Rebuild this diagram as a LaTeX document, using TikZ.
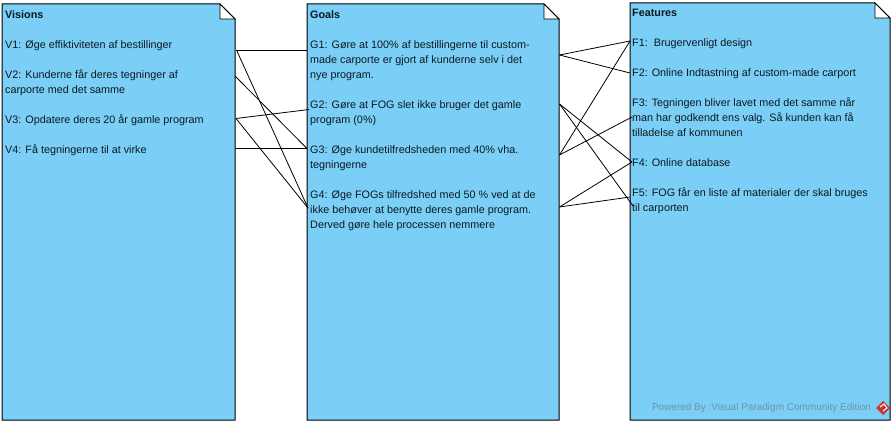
\documentclass[tikz,border=0pt]{standalone}
\usepackage{fontspec}
\setmainfont{Liberation Sans}
\definecolor{notefill}{HTML}{7BCEF5}
\definecolor{ink}{HTML}{0B1A22}
\definecolor{mark}{HTML}{6F93A8}
\definecolor{logored}{HTML}{C8342F}
\begin{document}
\begin{tikzpicture}[x=1pt,y=-1pt,text=ink,
    note/.style={draw=black,fill=notefill,line width=1pt},
    fold/.style={draw=black,fill=white,line width=.8pt},
    item/.style={anchor=north west,inner sep=0pt,align=left,
      font=\fontsize{10.8}{15}\selectfont,execute at begin node=\strut},
    title/.style={item,font=\fontsize{10.8}{15}\selectfont\bfseries},
    link/.style={draw=black,line width=.8pt}]
  \useasboundingbox (0,0) rectangle (895,425);
  % the three notes
  \foreach \xa/\xb/\ya in {2/235/4,307/559/4,630/890/3}{
    \draw[note] (\xa,\ya)--(\xb-15,\ya)--(\xb,\ya+15)--(\xb,420)--(\xa,420)--cycle;
    \draw[fold] (\xb-15,\ya)--(\xb-15,\ya+15)--(\xb,\ya+15)--cycle;
  }
  % visions
  \node[title] (visions) at (5,7.5) {Visions};
  \node[item] (v1) at (5,37.5) {V1: Øge effiktiviteten af bestillinger};
  \node[item] (v2) at (5,70) {V2: Kunderne får deres tegninger af\\carporte med det samme};
  \node[item] (v3) at (5,112.5) {V3: Opdatere deres 20 år gamle program};
  \node[item] (v4) at (5,142.5) {V4: Få tegningerne til at virke};
  % goals
  \node[title] (goals) at (310,7.5) {Goals};
  \node[item] (g1) at (310,40) {G1: Gøre at 100\% af bestillingerne til custom-\\made carporte er gjort af kunderne selv i det\\nye program.};
  \node[item] (g2) at (310,100) {G2: Gøre at FOG slet ikke bruger det gamle\\program (0\%)};
  \node[item] (g3) at (310,145) {G3: Øge kundetilfredsheden med 40\% vha.\\tegningerne};
  \node[item] (g4) at (310,190) {G4: Øge FOGs tilfredshed med 50 \% ved at de\\ikke behøver at benytte deres gamle program.\\Derved gøre hele processen nemmere};
  % features
  \node[title] (features) at (632,5.5) {Features};
  \node[item] (f1) at (632,35.5) {F1:\ \ Brugervenligt design};
  \node[item] (f2) at (632,65.5) {F2: Online Indtastning af custom-made carport};
  \node[item] (f3) at (632,98) {F3: Tegningen bliver lavet med det samme når\\man har godkendt ens valg. Så kunden kan få\\tilladelse af kommunen};
  \node[item] (f4) at (632,155.5) {F4: Online database};
  \node[item] (f5) at (632,188) {F5: FOG får en liste af materialer der skal bruges\\til carporten};
  % ends of the links
  \foreach \n/\x/\y in {v1r/236.5/50,v2r/235/76,v3r/236/118.5,v4r/235/148.5,
      g1l/307/50,g2l/309/109.5,g3l/307/148.5,g4l/308/208,
      g1r/559.5/55,g2r/559.5/104,g3r/559.5/155,g4r/559.5/207,
      f1l/630/41,f2l/630/73,f3l/632/117,f4l/632/162,f5l/630/197,f5b/633/206}
    \coordinate (\n) at (\x,\y);
  \foreach \a/\b in {v1r/g1l,v1r/g4l,v2r/g3l,v3r/g2l,v3r/g4l,v4r/g3l,
      g1r/f1l,g1r/f2l,g2r/f4l,g2r/f5b,g3r/f1l,g3r/f3l,g4r/f4l,g4r/f5l}
    \draw[link] (\a)--(\b);
  % watermark
  \node[anchor=east,inner sep=0pt,text=mark,font=\fontsize{10}{12}\selectfont] (powered) at (871,408)
    {Powered By :Visual Paradigm Community Edition};
  \fill[logored] (883,401)--(890,408)--(883,415)--(876,408)--cycle;
  \draw[white,line width=1pt] (880,407)--(884,404)--(887,408)--(883,411);
\end{tikzpicture}
\end{document}
